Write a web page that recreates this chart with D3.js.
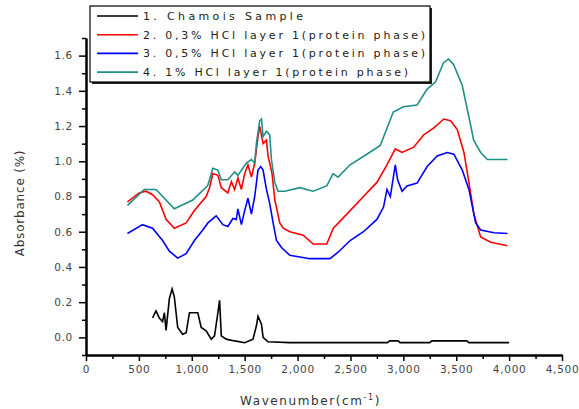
<!DOCTYPE html>
<html>
<head>
<meta charset="utf-8">
<script src="https://cdn.jsdelivr.net/npm/d3@7"></script>
<style>
  body { margin: 0; background: #fff; }
  text { font-family: 'DejaVu Sans', Verdana, sans-serif; }
</style>
</head>
<body>
<div id="main"></div>
<script>
const w = 579, h = 409

// [wavenumber, absorbance]
const chamois = [[629,0.11],[662,0.15],[693,0.11],[724,0.09],[741,0.14],[757,0.04],[788,0.22],[814,0.275],[835,0.23],[867,0.056],[914,0.018],[947,0.027],[978,0.14],[1057,0.14],[1089,0.056],[1136,0.037],[1184,-0.01],[1215,0.009],[1247,0.14],[1263,0.21],[1279,0.009],[1326,-0.01],[1405,-0.02],[1500,-0.03],[1579,-0.01],[1611,0.066],[1626,0.12],[1659,0.075],[1674,0.0],[1721,-0.025],[1927,-0.03],[2850,-0.03],[2870,-0.02],[2950,-0.02],[2970,-0.03],[3250,-0.03],[3270,-0.02],[3600,-0.02],[3620,-0.03],[4000,-0.03]]

const hcl03 = [[392,0.77],[503,0.82],[567,0.83],[629,0.81],[693,0.77],[757,0.67],[835,0.62],[947,0.65],[1025,0.72],[1136,0.80],[1168,0.85],[1199,0.93],[1247,0.92],[1279,0.85],[1341,0.82],[1374,0.885],[1405,0.84],[1436,0.905],[1469,0.84],[1500,0.93],[1531,0.98],[1564,0.91],[1595,0.99],[1626,1.14],[1642,1.20],[1674,1.10],[1706,1.12],[1721,1.03],[1759,0.93],[1785,0.78],[1832,0.65],[1864,0.62],[1927,0.60],[2053,0.58],[2148,0.53],[2276,0.53],[2338,0.62],[2466,0.70],[2623,0.80],[2750,0.88],[2845,0.98],[2924,1.07],[2988,1.05],[3098,1.08],[3193,1.15],[3288,1.19],[3383,1.24],[3446,1.23],[3510,1.18],[3573,1.05],[3620,0.88],[3667,0.70],[3731,0.57],[3826,0.54],[3985,0.52]]

const hcl05 = [[392,0.59],[534,0.64],[629,0.62],[724,0.55],[788,0.49],[867,0.45],[947,0.475],[1025,0.55],[1104,0.61],[1152,0.65],[1231,0.69],[1294,0.64],[1341,0.63],[1389,0.675],[1421,0.67],[1436,0.73],[1469,0.64],[1500,0.72],[1531,0.79],[1564,0.70],[1595,0.80],[1626,0.95],[1652,0.97],[1674,0.95],[1706,0.84],[1737,0.76],[1769,0.65],[1801,0.55],[1848,0.51],[1927,0.466],[2117,0.447],[2307,0.447],[2386,0.485],[2497,0.55],[2623,0.60],[2750,0.67],[2813,0.74],[2845,0.84],[2877,0.80],[2924,0.98],[2946,0.895],[2988,0.83],[3035,0.86],[3130,0.876],[3225,0.97],[3320,1.03],[3415,1.05],[3478,1.04],[3557,0.95],[3620,0.84],[3684,0.65],[3731,0.61],[3857,0.594],[3985,0.59]]

const hcl1 = [[392,0.75],[551,0.84],[662,0.84],[835,0.73],[1009,0.78],[1149,0.86],[1168,0.895],[1199,0.96],[1247,0.95],[1279,0.895],[1341,0.895],[1405,0.94],[1436,0.92],[1516,0.99],[1564,1.01],[1595,0.99],[1611,1.10],[1642,1.23],[1659,1.24],[1674,1.14],[1706,1.17],[1737,1.15],[1753,1.01],[1785,0.88],[1816,0.83],[1880,0.83],[2022,0.85],[2146,0.83],[2276,0.86],[2336,0.93],[2383,0.91],[2497,0.98],[2655,1.04],[2782,1.09],[2905,1.28],[3000,1.31],[3130,1.32],[3225,1.41],[3304,1.45],[3380,1.56],[3427,1.58],[3475,1.55],[3557,1.43],[3617,1.26],[3665,1.12],[3731,1.05],[3795,1.01],[3985,1.01]]

const seriesNames = ['1. Chamois Sample', '2. 0,3% HCl layer 1(protein phase)', '3. 0,5% HCl layer 1(protein phase)', '4. 1% HCl layer 1(protein phase)']
const seriesColors = ['#000000', '#ff0000', '#0000ff', '#1f8f88']
const seriesData = [chamois, hcl03, hcl05, hcl1]

const xMajor = [0, 500, 1000, 1500, 2000, 2500, 3000, 3500, 4000, 4500]
const xMinor = [250, 750, 1250, 1750, 2250, 2750, 3250, 3750, 4250]
const yMajor = [0.0, 0.2, 0.4, 0.6, 0.8, 1.0, 1.2, 1.4, 1.6]
const yMinor = [-0.1, 0.1, 0.3, 0.5, 0.7, 0.9, 1.1, 1.3, 1.5, 1.7]

const svg = d3.select('#main')
            .append('svg')
            .attr('width', w)
            .attr('height', h)

const xScale = d3.scaleLinear().domain([0, 4500]).range([86, 562])
const yScale = d3.scaleLinear().domain([-0.1, 1.7]).range([355, 38])

const line = d3.line()
               .x(d => xScale(d[0]))
               .y(d => yScale(d[1]))

// curves
seriesData.forEach((s, i) => {
    svg.append('path')
        .datum(s)
        .attr('d', line)
        .attr('fill', 'none')
        .attr('stroke', seriesColors[i])
        .attr('stroke-width', 1.6)
})

// axes
const styleAxis = g => {
    g.select('.domain').attr('stroke', '#000').attr('stroke-width', 2)
    g.selectAll('.tick line').attr('stroke', '#000').attr('stroke-width', 1.5)
    g.selectAll('.tick text')
        .attr('fill', '#444')
        .style('font-size', '10.5px')
        .style('letter-spacing', '0.7px')
}

svg.append('g')
    .attr('transform', 'translate(0,355)')
    .call(d3.axisBottom(xScale).tickValues(xMinor).tickSize(4).tickSizeOuter(0).tickFormat(''))
    .call(styleAxis)

svg.append('g')
    .attr('id', 'x-axis')
    .attr('transform', 'translate(0,355)')
    .call(d3.axisBottom(xScale).tickValues(xMajor).tickSize(6).tickSizeOuter(0).tickPadding(5))
    .call(styleAxis)

svg.append('g')
    .attr('transform', 'translate(86,0)')
    .call(d3.axisLeft(yScale).tickValues(yMinor).tickSize(4).tickSizeOuter(0).tickFormat(''))
    .call(styleAxis)

svg.append('g')
    .attr('id', 'y-axis')
    .attr('transform', 'translate(86,0)')
    .call(d3.axisLeft(yScale).tickValues(yMajor).tickSize(7).tickSizeOuter(0).tickPadding(6).tickFormat(d3.format('.1f')))
    .call(styleAxis)

// axis titles
svg.append('text')
    .attr('transform', 'translate(24,203) rotate(-90)')
    .attr('text-anchor', 'middle')
    .attr('fill', '#333')
    .style('font-size', '12px')
    .style('letter-spacing', '0.8px')
    .text('Absorbance (%)')

const xTitle = svg.append('text')
    .attr('x', 240)
    .attr('y', 405)
    .attr('fill', '#333')
    .style('font-size', '12px')
    .style('letter-spacing', '1.6px')
xTitle.append('tspan').text('Wavenumber(cm')
xTitle.append('tspan').attr('dy', -5).style('font-size', '8px').text('-1')
xTitle.append('tspan').attr('dy', 5).text(')')

// legend
const legend = svg.append('g').attr('id', 'legend')

legend.append('rect')
    .attr('x', 92)
    .attr('y', 8)
    .attr('width', 340)
    .attr('height', 76)
    .attr('fill', '#222')
legend.append('rect')
    .attr('x', 90)
    .attr('y', 6)
    .attr('width', 340)
    .attr('height', 76)
    .attr('fill', '#fff')
    .attr('stroke', '#000')
    .attr('stroke-width', 1.2)

const legendTextLen = [160, 282, 282, 265]

seriesNames.forEach((name, i) => {
    const ly = 16 + i * 18.7
    legend.append('line')
        .attr('x1', 97)
        .attr('x2', 138)
        .attr('y1', ly)
        .attr('y2', ly)
        .attr('stroke', seriesColors[i])
        .attr('stroke-width', 1.6)
    legend.append('text')
        .attr('x', 143)
        .attr('y', ly + 4)
        .attr('fill', '#222')
        .attr('textLength', legendTextLen[i])
        .attr('lengthAdjust', 'spacing')
        .style('font-size', '11px')
        .text(name)
})
</script>
</body>
</html>
